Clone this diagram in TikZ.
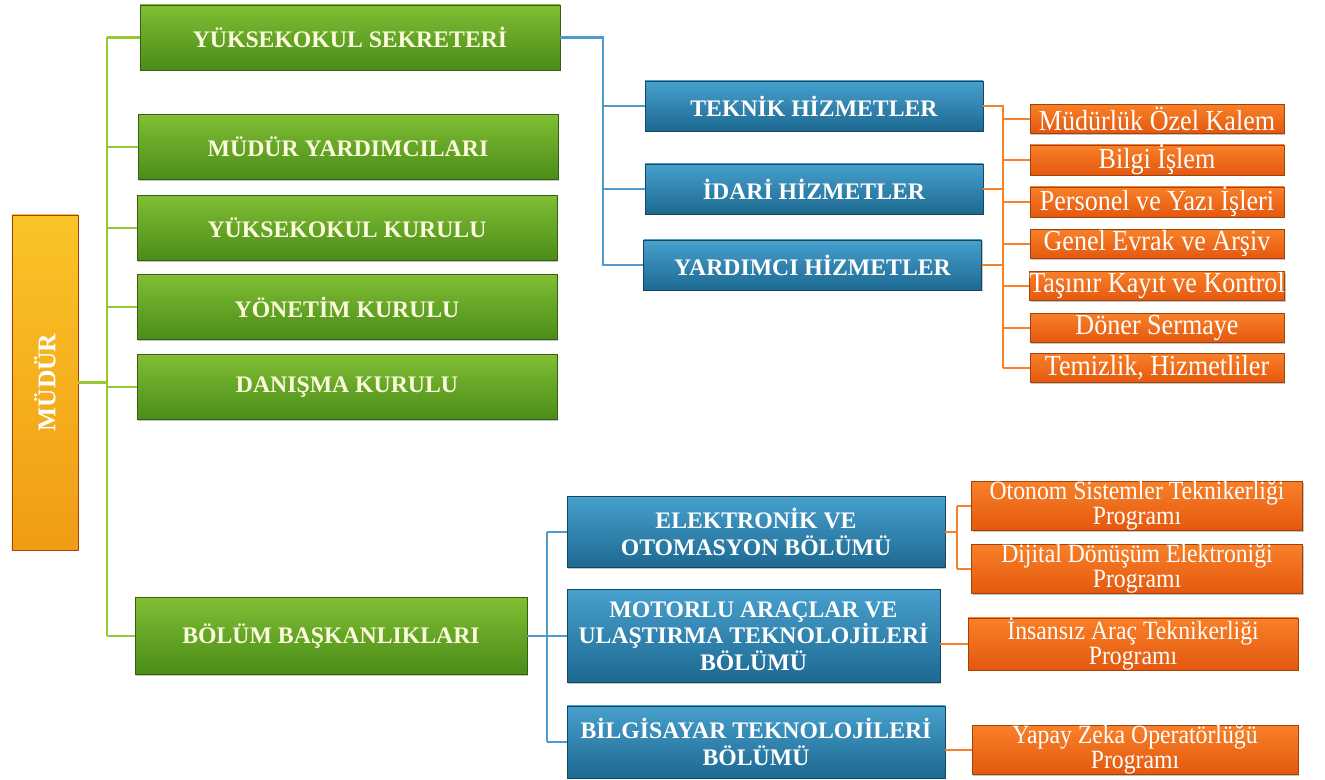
\documentclass[tikz,border=0pt]{standalone}
\usepackage{fontspec}
\setmainfont{Liberation Serif}
\newfontfamily\narrowserif[FakeStretch=0.9]{Liberation Serif}
\usetikzlibrary{shadows}

\definecolor{grnTop}{RGB}{128,190,52}
\definecolor{grnBot}{RGB}{74,140,24}
\definecolor{grnDark}{RGB}{52,96,16}
\definecolor{grnText}{RGB}{252,250,220}
\definecolor{grnLine}{RGB}{150,200,50}
\definecolor{bluTop}{RGB}{72,160,205}
\definecolor{bluBot}{RGB}{28,105,145}
\definecolor{bluDark}{RGB}{22,70,96}
\definecolor{bluLine}{RGB}{80,155,205}
\definecolor{orgTop}{RGB}{248,128,40}
\definecolor{orgBot}{RGB}{228,88,14}
\definecolor{orgDark}{RGB}{160,66,10}
\definecolor{orgLine}{RGB}{245,130,40}
\definecolor{mudTop}{RGB}{250,196,40}
\definecolor{mudBot}{RGB}{240,156,20}

\tikzset{
	boxshadow/.style={drop shadow={shadow xshift=0.8pt,shadow yshift=-0.8pt,opacity=0.45}},
	mudurbox/.style={draw=orgDark,top color=mudTop,bottom color=mudBot,boxshadow,
		minimum width=1.32cm,minimum height=6.7cm,inner sep=0pt,text=white,
		font=\fontsize{14.5}{16}\selectfont\bfseries},
	greenbox/.style={draw=grnDark,top color=grnTop,bottom color=grnBot,boxshadow,
		minimum width=8.4cm,minimum height=1.3cm,inner sep=1pt,text=grnText,
		font=\fontsize{13.5}{15}\selectfont\bfseries},
	bluebox/.style={draw=bluDark,top color=bluTop,bottom color=bluBot,boxshadow,
		minimum width=6.76cm,minimum height=1cm,inner sep=1pt,text=white,align=center,
		font=\fontsize{13.5}{15}\selectfont\bfseries},
	orangebox/.style={draw=orgDark,top color=orgTop,bottom color=orgBot,boxshadow,
		minimum width=5.08cm,minimum height=0.58cm,inner sep=0pt,text=white,
		font=\narrowserif\fontsize{16.5}{18}\selectfont},
	progbox/.style={orangebox,minimum width=6.62cm,minimum height=0.96cm,align=center,
		font=\narrowserif\fontsize{15}{12.8}\selectfont},
	gline/.style={draw=grnLine,line width=1.3pt},
	bline/.style={draw=bluLine,line width=1.3pt},
	oline/.style={draw=orgLine,line width=1.3pt}
}

\begin{document}
\begin{tikzpicture}
	\useasboundingbox[fill=white] (0,0) rectangle (26.5,15.6);

	% mudur and the green column
	\node[mudurbox] (mudur) at (0.9, 7.95) {\rotatebox{90}{MÜDÜR}};
	\node[greenbox] (sekreter) at (7.0, 14.85) {YÜKSEKOKUL SEKRETERİ};
	\node[greenbox] (yardimcilar) at (6.96, 12.66) {MÜDÜR YARDIMCILARI};
	\node[greenbox] (ykurulu) at (6.94, 11.04) {YÜKSEKOKUL KURULU};
	\node[greenbox] (yonetim) at (6.94, 9.46) {YÖNETİM KURULU};
	\node[greenbox] (danisma) at (6.94, 7.86) {DANIŞMA KURULU};
	\node[greenbox,minimum width=7.84cm,minimum height=1.54cm] (bolum) at (6.62, 2.88) {BÖLÜM BAŞKANLIKLARI};

	% hizmetler
	\node[bluebox] (teknik) at (16.28, 13.48) {TEKNİK HİZMETLER};
	\node[bluebox] (idari) at (16.28, 11.82) {İDARİ HİZMETLER};
	\node[bluebox] (yardimci) at (16.25, 10.3) {YARDIMCI HİZMETLER};

	\node[orangebox] (kalem) at (23.14, 13.22) {Müdürlük Özel Kalem};
	\node[orangebox] (bilgi) at (23.14, 12.4) {Bilgi İşlem};
	\node[orangebox] (personel) at (23.14, 11.56) {Personel ve Yazı İşleri};
	\node[orangebox] (evrak) at (23.14, 10.72) {Genel Evrak ve Arşiv};
	\node[orangebox] (tasinir) at (23.14, 9.88) {Taşınır Kayıt ve Kontrol};
	\node[orangebox] (doner) at (23.14, 9.04) {Döner Sermaye};
	\node[orangebox] (temizlik) at (23.14, 8.24) {Temizlik, Hizmetliler};

	% bolumler
	\node[bluebox,minimum width=7.56cm,minimum height=1.42cm] (elektronik) at (15.12, 4.96) {ELEKTRONİK VE\\OTOMASYON BÖLÜMÜ};
	\node[bluebox,minimum width=7.46cm,minimum height=1.86cm] (motorlu) at (15.07, 2.88) {MOTORLU ARAÇLAR VE\\ULAŞTIRMA TEKNOLOJİLERİ\\BÖLÜMÜ};
	\node[bluebox,minimum width=7.56cm,minimum height=1.44cm] (bilgisayar) at (15.12, 0.76) {BİLGİSAYAR TEKNOLOJİLERİ\\BÖLÜMÜ};

	\node[progbox] (otonom) at (22.74, 5.48) {Otonom Sistemler Teknikerliği\\Programı};
	\node[progbox] (dijital) at (22.74, 4.22) {Dijital Dönüşüm Elektroniği\\Programı};
	\node[progbox,minimum width=6.6cm] (insansiz) at (22.66, 2.72) {İnsansız Araç Teknikerliği\\Programı};
	\node[progbox,minimum width=6.52cm] (yapay) at (22.7, 0.6) {Yapay Zeka Operatörlüğü\\Programı};

	\coordinate (gtrunk) at (2.14, 0);
	\coordinate (btrunk) at (12.06, 0);
	\coordinate (otrunk) at (20.06, 0);
	\coordinate (btrunkb) at (10.94, 0);
	\coordinate (otrunkb) at (19.14, 0);

	% green connectors
	\draw[gline] (mudur.east) -- (mudur.east -| gtrunk);
	\draw[gline] (gtrunk |- sekreter) -- (gtrunk |- bolum);
	\draw[gline] (gtrunk |- sekreter) -- (sekreter.west);
	\draw[gline] (gtrunk |- yardimcilar) -- (yardimcilar.west);
	\draw[gline] (gtrunk |- ykurulu) -- (ykurulu.west);
	\draw[gline] (gtrunk |- yonetim) -- (yonetim.west);
	\draw[gline] (gtrunk |- danisma) -- (danisma.west);
	\draw[gline] (gtrunk |- bolum) -- (bolum.west);

	% blue connectors
	\draw[bline] (sekreter.east) -- (sekreter.east -| btrunk) -- (btrunk |- yardimci) -- (yardimci.west);
	\draw[bline] (btrunk |- teknik) -- (teknik.west);
	\draw[bline] (btrunk |- idari) -- (idari.west);
	\draw[bline] (bolum.east) -- (bolum.east -| btrunkb);
	\draw[bline] (btrunkb |- elektronik) -- (btrunkb |- bilgisayar);
	\draw[bline] (btrunkb |- elektronik) -- (elektronik.west);
	\draw[bline] (btrunkb |- motorlu) -- (motorlu.west);
	\draw[bline] (btrunkb |- bilgisayar) -- (bilgisayar.west);

	% orange connectors
	\draw[oline] (teknik.east) -- (teknik.east -| otrunk) -- (otrunk |- temizlik);
	\draw[oline] (idari.east) -- (idari.east -| otrunk);
	\draw[oline] (yardimci.east) -- (yardimci.east -| otrunk);
	\draw[oline] (otrunk |- kalem) -- (kalem.west);
	\draw[oline] (otrunk |- bilgi) -- (bilgi.west);
	\draw[oline] (otrunk |- personel) -- (personel.west);
	\draw[oline] (otrunk |- evrak) -- (evrak.west);
	\draw[oline] (otrunk |- tasinir) -- (tasinir.west);
	\draw[oline] (otrunk |- doner) -- (doner.west);
	\draw[oline] (otrunk |- temizlik) -- (temizlik.west);
	\draw[oline] (elektronik.east) -- (elektronik.east -| otrunkb);
	\draw[oline] (otrunkb |- otonom) -- (otrunkb |- dijital);
	\draw[oline] (otrunkb |- otonom) -- (otonom.west);
	\draw[oline] (otrunkb |- dijital) -- (dijital.west);
	\draw[oline] (motorlu.east |- insansiz.west) -- (insansiz.west);
	\draw[oline] (bilgisayar.east |- yapay.west) -- (yapay.west);

\end{tikzpicture}
\end{document}
